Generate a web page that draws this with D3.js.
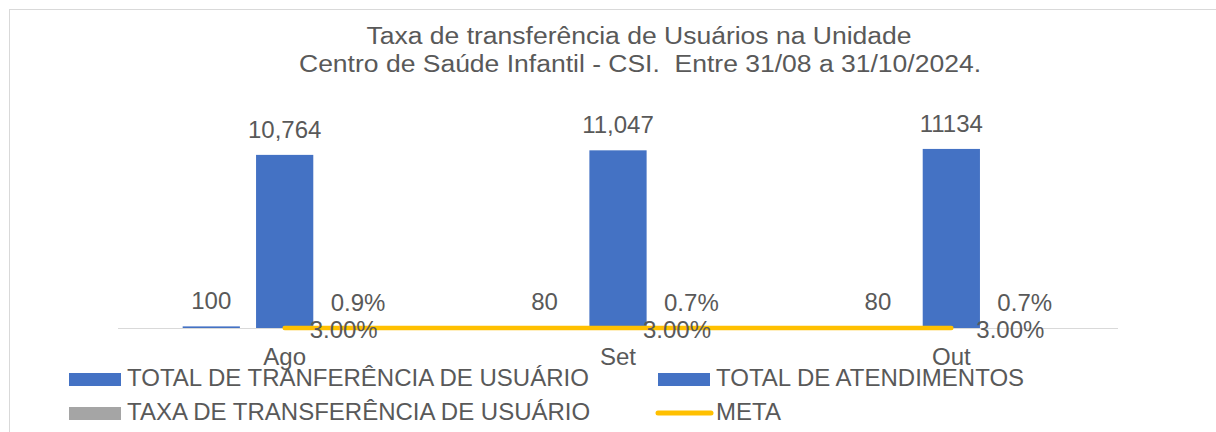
<!DOCTYPE html>
<html>
<head>
<meta charset="utf-8">
<script src="https://cdn.jsdelivr.net/npm/d3@7"></script>
<style>
  body { margin: 0; background: #fff; }
  text { font-family: "Liberation Sans", Arial, sans-serif; fill: #595959; }
</style>
</head>
<body>
<script>
// data van de grafiek
var meses = ["Ago", "Set", "Out"];
var transferencias = [100, 80, 80];
var atendimentos = [10764, 11047, 11134];
var taxa = [0.009, 0.007, 0.007];
var meta = [0.03, 0.03, 0.03];

var labelsTransf = ["100", "80", "80"];
var labelsAtend = ["10,764", "11,047", "11134"];
var labelsTaxa = ["0.9%", "0.7%", "0.7%"];
var labelsMeta = ["3.00%", "3.00%", "3.00%"];

var series = ["TOTAL DE TRANFERÊNCIA DE USUÁRIO", "TOTAL DE ATENDIMENTOS", "TAXA DE TRANSFERÊNCIA DE USUÁRIO", "META"];
var cores = ["#4472c4", "#4472c4", "#a5a5a5", "#ffc000"];

var width = 1216, height = 432;

var svg = d3.select("body").append("svg")
    .attr("width", width)
    .attr("height", height);

// rand van het kader
svg.append("rect")
    .attr("x", 9.5).attr("y", 9.5)
    .attr("width", 1220).attr("height", 440)
    .attr("fill", "none")
    .attr("stroke", "#d9d9d9");

// titel
svg.append("text")
    .attr("x", 639).attr("y", 44)
    .attr("text-anchor", "middle")
    .attr("font-size", "23.5px")
    .attr("textLength", 545)
    .attr("lengthAdjust", "spacingAndGlyphs")
    .text("Taxa de transferência de Usuários na Unidade");
svg.append("text")
    .attr("x", 640).attr("y", 72)
    .attr("text-anchor", "middle")
    .attr("font-size", "23.5px")
    .attr("textLength", 682)
    .attr("lengthAdjust", "spacingAndGlyphs")
    .style("white-space", "pre")
    .text("Centro de Saúde Infantil - CSI.  Entre 31/08 a 31/10/2024.");

// schalen
var x = d3.scaleBand().domain(meses).range([118, 1118]);
var xs = d3.scaleBand().domain([0, 1, 2])
    .range([x.bandwidth() / 2 - 102, x.bandwidth() / 2 + 102])
    .paddingInner(0.22);
var y = d3.scaleLinear().domain([0, 12000]).range([328, 135]);

// x as lijn
svg.append("line")
    .attr("x1", 118).attr("x2", 1118)
    .attr("y1", 328.5).attr("y2", 328.5)
    .attr("stroke", "#d9d9d9").attr("stroke-width", 1.2);

var reeksen = [
  {vals: transferencias, labels: labelsTransf, cor: cores[0]},
  {vals: atendimentos, labels: labelsAtend, cor: cores[1]},
  {vals: taxa, labels: labelsTaxa, cor: cores[2]}
];

reeksen.forEach(function(r, i) {
  var g = svg.append("g");
  g.selectAll("rect")
    .data(meses)
    .enter().append("rect")
      .attr("x", function(d) { return x(d) + xs(i); })
      .attr("y", function(d, j) { return y(r.vals[j]); })
      .attr("width", xs.bandwidth())
      .attr("height", function(d, j) { return y(0) - y(r.vals[j]); })
      .attr("fill", r.cor);
  g.selectAll("text")
    .data(meses)
    .enter().append("text")
      .attr("x", function(d) { return x(d) + xs(i) + xs.bandwidth() / 2; })
      .attr("y", function(d, j) { return y(r.vals[j]) - 17; })
      .attr("text-anchor", "middle")
      .attr("font-size", "24px")
      .text(function(d, j) { return r.labels[j]; });
});

// meta lijn
var linha = d3.line()
    .x(function(d, i) { return x(meses[i]) + x.bandwidth() / 2; })
    .y(function(d) { return y(d); });

svg.append("path")
    .datum(meta)
    .attr("d", linha)
    .attr("fill", "none")
    .attr("stroke", cores[3])
    .attr("stroke-width", 4.5)
    .attr("stroke-linecap", "round");

svg.append("g").selectAll("text")
  .data(meta)
  .enter().append("text")
    .attr("x", function(d, i) { return x(meses[i]) + x.bandwidth() / 2 + 25; })
    .attr("y", function(d) { return y(d) + 10; })
    .attr("font-size", "24px")
    .text(function(d, i) { return labelsMeta[i]; });

// categorie labels
svg.append("g").selectAll("text")
  .data(meses)
  .enter().append("text")
    .attr("x", function(d) { return x(d) + x.bandwidth() / 2; })
    .attr("y", 365)
    .attr("text-anchor", "middle")
    .attr("font-size", "24px")
    .text(function(d) { return d; });

// legenda
var legPos = [[69, 386], [658, 386], [69, 420], [658, 420]];
series.forEach(function(s, i) {
  var p = legPos[i];
  if (i == 3) {
    svg.append("line")
      .attr("x1", p[0]).attr("x2", p[0] + 53)
      .attr("y1", p[1] - 7).attr("y2", p[1] - 7)
      .attr("stroke", cores[i]).attr("stroke-width", 5)
      .attr("stroke-linecap", "round");
  } else {
    svg.append("rect")
      .attr("x", p[0]).attr("y", p[1] - 13)
      .attr("width", 52).attr("height", 13)
      .attr("fill", cores[i]);
  }
  svg.append("text")
    .attr("x", p[0] + 58)
    .attr("y", p[1])
    .attr("font-size", "24px")
    .text(s);
});
</script>
</body>
</html>
